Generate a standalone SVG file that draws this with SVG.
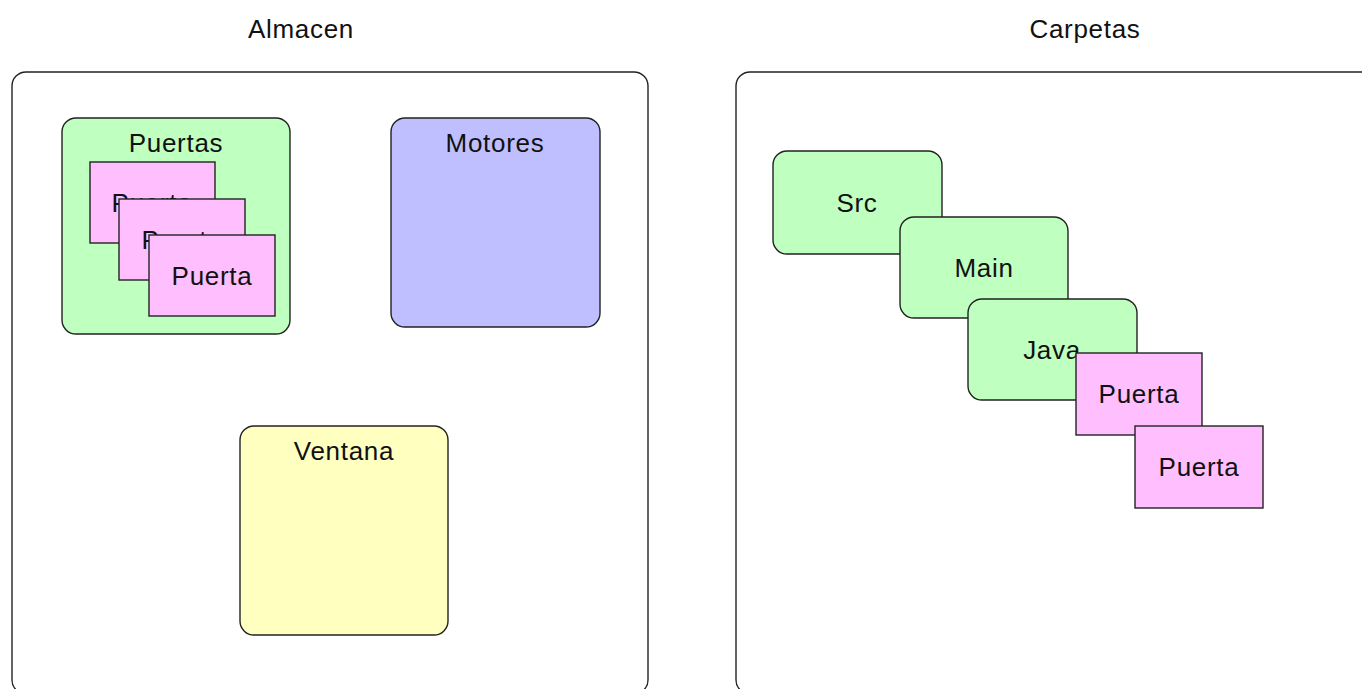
<svg xmlns="http://www.w3.org/2000/svg" width="1362" height="689" viewBox="0 0 1362 689">
<style>
text{font-family:"Liberation Sans",Arial,Helvetica,sans-serif;font-size:26px;letter-spacing:0.7px;fill:#111;text-anchor:middle}
.ct{fill:#fff;stroke:#222;stroke-width:1.4}
.grn{fill:#bfffbf;stroke:#222;stroke-width:1.4}
.blu{fill:#bfbfff;stroke:#222;stroke-width:1.4}
.yel{fill:#ffffc0;stroke:#222;stroke-width:1.4}
.pnk{fill:#ffbfff;stroke:#222;stroke-width:1.4}
</style>
<rect width="1362" height="689" fill="#fff"/>
<g id="almacen">
<text x="301" y="38">Almacen</text>
<rect class="ct" x="12" y="72" width="636" height="622" rx="14"/>
</g>
<g id="carpetas">
<text x="1085" y="38">Carpetas</text>
<rect class="ct" x="736" y="72" width="640" height="622" rx="14"/>
</g>
<g id="puertas">
<rect class="grn" x="62" y="118" width="228" height="216" rx="14"/>
<text x="176" y="152">Puertas</text>
</g>
<g id="puerta1">
<rect class="pnk" x="90" y="162" width="125" height="81"/>
<text x="152" y="212">Puerta</text>
</g>
<g id="puerta2">
<rect class="pnk" x="119" y="199" width="126" height="81"/>
<text x="182" y="249">Puerta</text>
</g>
<g id="puerta3">
<rect class="pnk" x="149" y="235" width="126" height="81"/>
<text x="212" y="285">Puerta</text>
</g>
<g id="motores">
<rect class="blu" x="391" y="118" width="209" height="209" rx="14"/>
<text x="495" y="152">Motores</text>
</g>
<g id="ventana">
<rect class="yel" x="240" y="426" width="208" height="209" rx="14"/>
<text x="344" y="460">Ventana</text>
</g>
<g id="src">
<rect class="grn" x="773" y="151" width="169" height="103" rx="14"/>
<text x="857" y="212">Src</text>
</g>
<g id="main">
<rect class="grn" x="900" y="217" width="168" height="101" rx="14"/>
<text x="984" y="277">Main</text>
</g>
<g id="java">
<rect class="grn" x="968" y="299" width="169" height="101" rx="14"/>
<text x="1052" y="359">Java</text>
</g>
<g id="puerta4">
<rect class="pnk" x="1076" y="353" width="126" height="82"/>
<text x="1139" y="403">Puerta</text>
</g>
<g id="puerta5">
<rect class="pnk" x="1135" y="426" width="128" height="82"/>
<text x="1199" y="476">Puerta</text>
</g>
<g id="connectors"/>
</svg>
